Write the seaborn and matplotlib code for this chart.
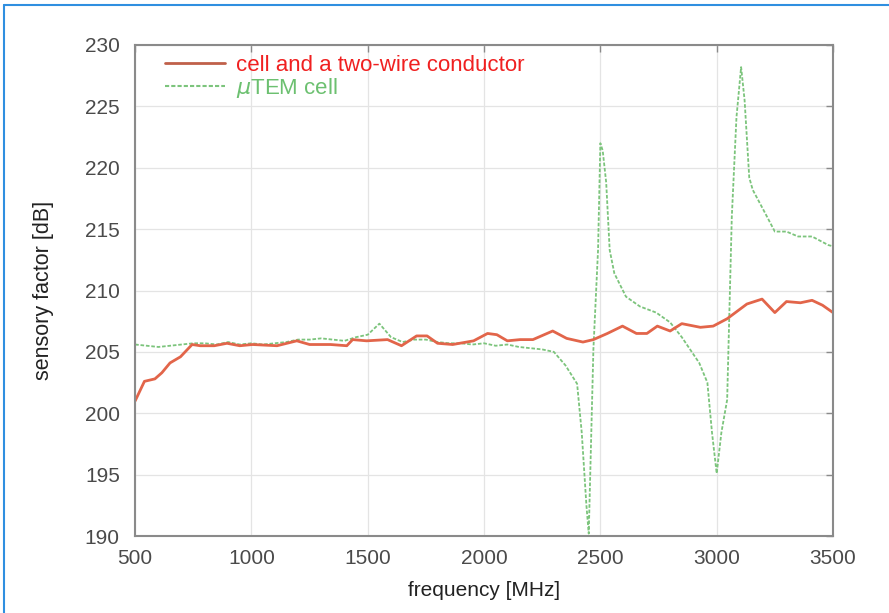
import numpy as np
import pandas as pd
import matplotlib
matplotlib.use('Agg')
import matplotlib.pyplot as plt
from matplotlib.lines import Line2D
import seaborn as sns

# two-wire conductor cell
red_freq = [500, 540, 585, 615, 650, 695, 745, 780, 840, 895, 950, 1005, 1110, 1195,
            1250, 1340, 1410, 1435, 1495, 1585, 1645, 1710, 1755, 1800, 1865, 1955,
            2015, 2055, 2100, 2155, 2210, 2295, 2355, 2425, 2470, 2530, 2595, 2655,
            2700, 2745, 2800, 2850, 2930, 2985, 3045, 3130, 3195, 3250, 3300, 3360,
            3410, 3455, 3500]
red_val = [201.0, 202.6, 202.8, 203.3, 204.1, 204.6, 205.6, 205.5, 205.5, 205.7, 205.5,
           205.6, 205.5, 205.9, 205.6, 205.6, 205.5, 206.0, 205.9, 206.0, 205.5, 206.3,
           206.3, 205.7, 205.6, 205.9, 206.5, 206.4, 205.9, 206.0, 206.0, 206.7, 206.1,
           205.8, 206.0, 206.5, 207.1, 206.5, 206.5, 207.1, 206.7, 207.3, 207.0, 207.1,
           207.7, 208.9, 209.3, 208.2, 209.1, 209.0, 209.2, 208.8, 208.2]

# uTEM cell
green_freq = [500, 550, 600, 650, 700, 750, 800, 850, 900, 950, 1000, 1050, 1100, 1150,
              1200, 1250, 1300, 1350, 1400, 1450, 1500, 1550, 1600, 1650, 1700, 1750,
              1800, 1850, 1900, 1950, 2000, 2050, 2100, 2150, 2200, 2250, 2300, 2350,
              2400, 2420, 2440, 2450, 2470, 2490, 2500, 2510, 2525, 2540, 2560, 2610,
              2670, 2740, 2800, 2850, 2925, 2960, 2980, 3000, 3020, 3045, 3065, 3085,
              3105, 3120, 3140, 3155, 3200, 3250, 3300, 3350, 3410, 3480, 3500]
green_val = [205.6, 205.5, 205.4, 205.5, 205.6, 205.7, 205.7, 205.6, 205.8, 205.6, 205.7,
             205.6, 205.7, 205.8, 206.0, 206.0, 206.1, 206.0, 205.9, 206.2, 206.4, 207.3,
             206.2, 205.8, 206.0, 206.0, 205.8, 205.7, 205.7, 205.6, 205.7, 205.5, 205.6,
             205.4, 205.3, 205.2, 205.0, 203.9, 202.4, 198.4, 192.5, 190.2, 205.2, 213.3,
             222.0, 221.4, 218.8, 213.3, 211.4, 209.5, 208.7, 208.2, 207.4, 206.2, 204.1,
             202.5, 198.4, 195.1, 198.4, 201.1, 216.0, 224.1, 228.2, 225.5, 219.2, 218.2,
             216.6, 214.8, 214.8, 214.4, 214.4, 213.7, 213.6]

x_ticks = [500, 1000, 1500, 2000, 2500, 3000, 3500]
y_ticks = [190, 195, 200, 205, 210, 215, 220, 225, 230]

red_df = pd.DataFrame({'f': red_freq, 'v': red_val})
green_df = pd.DataFrame({'f': green_freq, 'v': green_val})

sns.set_theme(style='whitegrid')
plt.rcParams['font.family'] = ['Liberation Sans', 'DejaVu Sans']

fig = plt.figure(figsize=(8.89, 6.13), dpi=100)
ax = fig.add_axes([0.152, 0.1256, 0.785, 0.801])

sns.lineplot(data=green_df, x='f', y='v', ax=ax, color='#7cc47c', lw=1.3,
             linestyle=(0, (2, 1)), sort=False)
sns.lineplot(data=red_df, x='f', y='v', ax=ax, color='#e2654a', lw=2.0, sort=False)

ax.set_xlim(500, 3500)
ax.set_ylim(190, 230)
ax.set_xticks(x_ticks)
ax.set_yticks(y_ticks)
ax.grid(True, color='#e4e4e4', lw=0.9)
for s in ax.spines.values():
    s.set_color('#8a8a8a')
    s.set_linewidth(1.5)
ax.tick_params(direction='in', length=5, width=1, color='#8a8a8a',
               top=True, right=True, labelsize=15, labelcolor='#4a4a4a')
ax.tick_params(axis='y', pad=11)
ax.tick_params(axis='x', pad=9)
ax.set_xlabel('frequency [MHz]', fontsize=15, color='#222222', labelpad=10)
ax.set_ylabel('sensory factor [dB]', fontsize=15.5, color='#222222', labelpad=22)

handles = [Line2D([], [], color='#c0604a', lw=2.0),
           Line2D([], [], color='#7cc47c', lw=1.5, linestyle=(0, (2, 1)))]
leg = ax.legend(handles, ['cell and a two-wire conductor', r'$\mu$TEM cell'],
                loc='upper left', bbox_to_anchor=(0.02, 1.012), frameon=False,
                fontsize=16, handlelength=2.7, handletextpad=0.5, labelspacing=0.0,
                borderaxespad=0.3)
leg.get_texts()[0].set_color('#f02020')
leg.get_texts()[1].set_color('#6cc070')

# blue frame on top and left edges
fig.add_artist(Line2D([0.005, 1.0], [0.992, 0.992], color='#2f8fe0', lw=1.5,
                      transform=fig.transFigure))
fig.add_artist(Line2D([0.005, 0.005], [0.0, 0.992], color='#2f8fe0', lw=1.5,
                      transform=fig.transFigure))

fig.savefig('out.png', dpi=100)
